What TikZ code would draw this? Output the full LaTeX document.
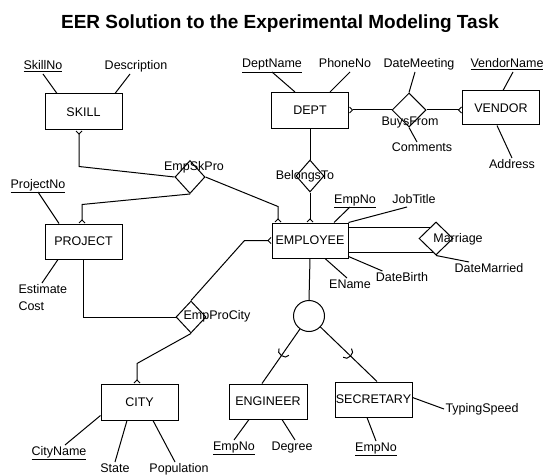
\documentclass[tikz,border=0pt]{standalone}
\usepackage{fontspec}
\setmainfont{Liberation Sans}
\usetikzlibrary{shapes.geometric, arrows.meta, decorations.markings}

\begin{document}
\begin{tikzpicture}[x=1pt, y=-1pt, line width=1pt,
  entity/.style={draw, minimum width=77pt, minimum height=36pt, inner sep=0pt},
  rel/.style={draw, diamond, inner sep=0pt, minimum width=30pt, minimum height=33pt},
  attr/.style={inner sep=1pt, text height=8.5pt, text depth=2.5pt},
  many/.style={-{Straight Barb[reversed, length=3pt, width=6pt]}},
  subset/.style={postaction={decorate}, decoration={markings, mark=at position #1 with
    {\draw (-2pt,-6pt) .. controls (4pt,-6pt) and (4pt,6pt) .. (-2pt,6pt);}}}]

\tikzstyle{every node}=[font=\fontsize{12.5}{14}\selectfont]

\useasboundingbox (0,0) rectangle (546,476);

\node (title) [anchor=base, font=\bfseries\fontsize{19}{22}\selectfont] at (280,28.5)
  {EER Solution to the Experimental Modeling Task};

% entities
\node (skill)   [entity] at (83.5,112) {SKILL};
\node (dept)    [entity] at (310,110.5) {DEPT};
\node (vendor)  [entity, minimum height=34pt] at (501,108) {VENDOR};
\node (project) [entity, minimum height=35pt] at (83.5,241.5) {PROJECT};
\node (emp)     [entity, minimum width=76pt, minimum height=35pt] at (310,240.5) {EMPLOYEE};
\node (city)    [entity] at (139.5,402) {CITY};
\node (eng)     [entity, minimum width=78pt, minimum height=35pt] at (268,401.5) {ENGINEER};
\node (sec)     [entity, minimum height=35pt] at (373.5,399.5) {SECRETARY};

% relationships and the specialization circle
\node (skpro)    [rel] at (190,177) {};
\node (buys)     [rel, minimum width=34pt, minimum height=34pt] at (409,110) {};
\node (belongs)  [rel, minimum width=28pt, minimum height=32pt] at (310,176) {};
\node (marriage) [rel, minimum width=34pt] at (436,238.5) {};
\node (procity)  [rel, minimum height=32pt] at (191,317) {};
\node (isa)      [draw, circle, minimum size=31pt, inner sep=0pt] at (309,316) {};

\node (skprolbl)    [attr] at (194,167) {EmpSkPro};
\node (buyslbl)     [attr] at (410,122) {BuysFrom};
\node (belongslbl)  [attr] at (305,176) {BelongsTo};
\node (marriagelbl) [attr] at (458,239) {Marriage};
\node (procitylbl)  [attr] at (217,316) {EmpProCity};

% attributes
\node (skillno)  [attr] at (43,67) {\underline{SkillNo}};
\node (descr)    [attr] at (136,67) {Description};
\node (deptname) [attr] at (272,65) {\underline{DeptName}};
\node (phoneno)  [attr] at (345,65) {PhoneNo};
\node (datemeet) [attr] at (419,65) {DateMeeting};
\node (vendname) [attr] at (507,65) {\underline{VendorName}};
\node (comments) [attr] at (422,149) {Comments};
\node (address)  [attr] at (512,165) {Address};
\node (projno)   [attr] at (38,185) {\underline{ProjectNo}};
\node (estcost)  [align=left, anchor=north west, inner sep=1pt,
                  font=\fontsize{12.5}{17}\selectfont] at (17,283) {Estimate\\Cost};
\node (empno)    [attr] at (355,200) {\underline{EmpNo}};
\node (jobtitle) [attr] at (414,200) {JobTitle};
\node (ename)    [attr] at (350,285) {EName};
\node (datebirth)[attr] at (402,278) {DateBirth};
\node (datemarr) [attr] at (489,269) {DateMarried};
\node (cityname) [attr] at (59,452) {\underline{CityName}};
\node (state)    [attr] at (115,469) {State};
\node (popul)    [attr] at (179,469) {Population};
\node (engno)    [attr] at (234,447) {\underline{EmpNo}};
\node (degree)   [attr] at (292,447) {Degree};
\node (secno)    [attr] at (376,448) {\underline{EmpNo}};
\node (typing)   [attr] at (482,409) {TypingSpeed};

\draw (skillno.south) -- ([xshift=-26.5pt]skill.north);
\draw ([xshift=-6pt]descr.south) -- ([xshift=31.5pt]skill.north);
\draw (deptname.south) -- ([xshift=-15pt]dept.north);
\draw ([xshift=5pt]phoneno.south) -- ([xshift=20pt]dept.north);
\draw ([xshift=-4pt]datemeet.south) -- (buys.north);
\draw ([xshift=6pt]vendname.south) -- ([xshift=2pt]vendor.north);
\draw (buys.south) -- ([xshift=-5pt]comments.north);
\draw ([xshift=-4pt]vendor.south) -- (address.north);
\draw (projno.south) -- ([xshift=-24.5pt]project.north);
\draw ([xshift=-25.5pt]project.south) -- ([xshift=25pt]estcost.north west);
\draw ([xshift=-5pt]empno.south) -- ([xshift=24pt]emp.north);
\draw ([xshift=-7pt]jobtitle.south) -- (emp.north east);
\draw ([xshift=15pt]emp.south) -- ([xshift=-3pt]ename.north);
\draw ([yshift=2pt]emp.south east) -- ([xshift=8pt]datebirth.north west);
\draw (marriage.south) -- ([xshift=-20pt]datemarr.north);
\draw ([yshift=5pt]city.south west) -- ([xshift=6pt]cityname.north);
\draw ([xshift=-12.5pt]city.south) -- (state.north);
\draw ([xshift=13.5pt]city.south) -- ([xshift=-4pt]popul.north);
\draw ([xshift=-19pt]eng.south) -- (engno.north);
\draw ([xshift=14pt]eng.south) -- ([xshift=3pt]degree.north);
\draw ([xshift=-6.5pt]sec.south) -- (secno.north);
\draw ([yshift=2pt]sec.east) -- (typing.west);

% relationship lines
\draw[many] (buys.west) -- (buys.west -| dept.east);
\draw[many] (buys.east) -- (buys.east -| vendor.west);
\draw (dept.south) -- (belongs.north);
\draw[many] (belongs.south) -- (emp.north);
\draw[many] (skpro.west) -- ([xshift=-4.5pt, yshift=-36pt]skill.south) -- ([xshift=-4.5pt]skill.south);
\draw[many] (skpro.south) -- ([xshift=-1.5pt, yshift=19pt]project.north) -- ([xshift=-1.5pt]project.north);
\draw[many] (skpro.east) -- ([xshift=-32pt, yshift=16pt]emp.north) -- ([xshift=-32pt]emp.north);
\draw (project.south) |- (procity.west);
\draw[many] (procity.north) -- ([xshift=-27pt]emp.west) -- (emp.west);
\draw[many] (procity.south) -- ([xshift=-2.5pt, yshift=20pt]city.north) -- ([xshift=-2.5pt]city.north);
\draw (marriage.121) -- (marriage.121 -| emp.east);
\draw (marriage.257) -- (marriage.257 -| emp.east);

% specialization
\draw (emp.south) -- (isa.north);
\draw[subset=0.45] (isa) -- ([xshift=-6pt]eng.north);
\draw[subset=0.5] (isa) -- ([xshift=3.5pt]sec.north);

\end{tikzpicture}
\end{document}
